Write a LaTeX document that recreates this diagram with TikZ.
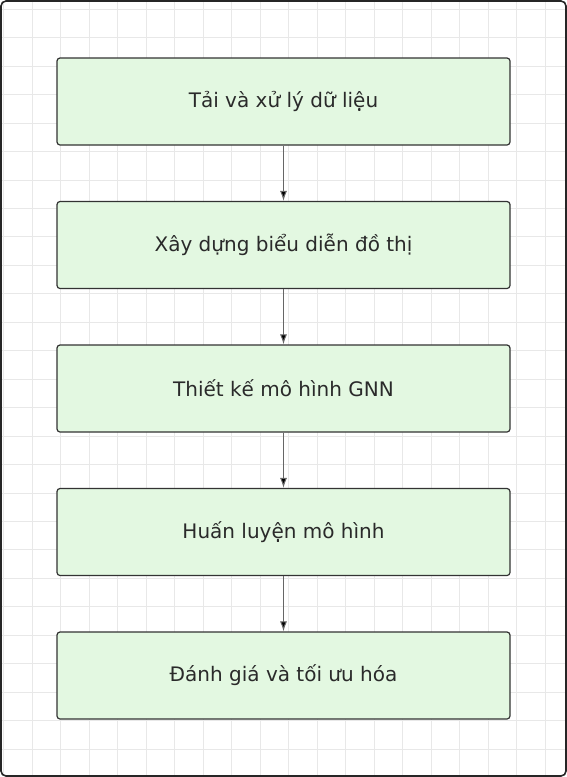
\documentclass[tikz,border=0pt]{standalone}
\usepackage{fontspec}
\setmainfont{DejaVu Sans}
\usepackage{tikz}
\usetikzlibrary{arrows.meta,positioning}
\definecolor{boxfill}{HTML}{E3F8E1}
\definecolor{boxline}{HTML}{333333}
\definecolor{gridline}{HTML}{E8E8E8}
\definecolor{txt}{HTML}{2A2A2A}
\tikzset{
    -{Latex[length=10pt,width=7pt]},semithick,
    stepbox/.style ={rectangle, rounded corners=3pt, draw=boxline, fill=boxfill, line width=1.2pt,
        minimum width=453pt, minimum height=87pt, text=txt, font=\fontsize{20}{24}\selectfont},
    flow/.style={draw=black!60, line width=1pt},
}
\begin{document}
\begin{tikzpicture}[x=1pt,y=-1pt]
\useasboundingbox (0,0) rectangle (567,777);
    % grid background
    \foreach \i in {0,...,19} \draw[-,gridline,line width=0.7pt] (3.5+28.5*\i,2) -- (3.5+28.5*\i,775);
    \foreach \j in {0,...,26} \draw[-,gridline,line width=0.7pt] (2,9.2+28.45*\j) -- (565,9.2+28.45*\j);
    \draw[-,black!85,line width=1.6pt,rounded corners=5pt] (1,1) rectangle (566,776);

    % steps
    \node (load) at (283.5,101.5) [stepbox] {Tải và xử lý dữ liệu};
    \node (graph) at (283.5,245) [stepbox] {Xây dựng biểu diễn đồ thị};
    \node (model) at (283.5,388.5) [stepbox] {Thiết kế mô hình GNN};
    \node (train) at (283.5,532) [stepbox] {Huấn luyện mô hình};
    \node (eval) at (283.5,675.5) [stepbox] {Đánh giá và tối ưu hóa};

    % Directed edge
    \path[flow] (load) edge (graph);
    \path[flow] (graph) edge (model);
    \path[flow] (model) edge (train);
    \path[flow] (train) edge (eval);

\end{tikzpicture}
\end{document}
